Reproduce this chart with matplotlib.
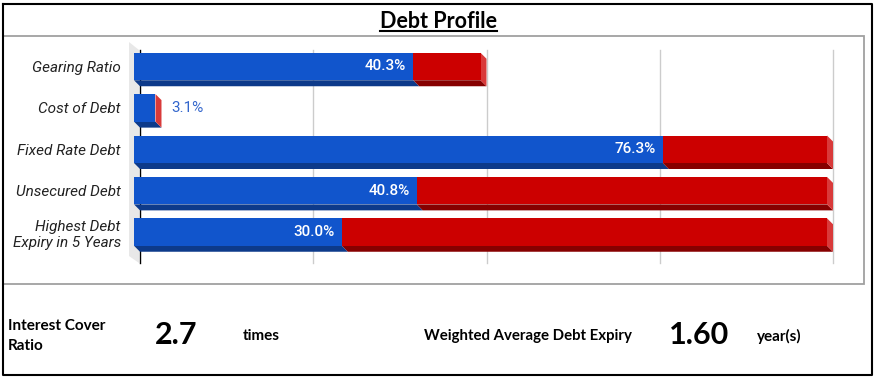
import matplotlib.pyplot as plt
from matplotlib import font_manager
from matplotlib.patches import Polygon, Rectangle

# data
categories = ['Gearing Ratio', 'Cost of Debt', 'Fixed Rate Debt', 'Unsecured Debt',
              'Highest Debt\nExpiry in 5 Years']
value = [40.3, 3.1, 76.3, 40.8, 30.0]
remainder = [9.7, 0.0, 23.7, 59.2, 70.0]
grid_ticks = [0, 25, 50, 75, 100]

title = 'Debt Profile'
icr_label = 'Interest Cover\nRatio'
icr_value = '2.7'
icr_unit = 'times'
wade_label = 'Weighted Average Debt Expiry'
wade_value = '1.60'
wade_unit = 'year(s)'

# colours
blue, blue_dark = '#1155cc', '#0d3a8a'
red, red_dark, red_side = '#cc0000', '#860000', '#d93a3a'

# pick a family that really has an italic face
italic_family = 'Liberation Sans'
for fam in ['Roboto', 'Open Sans', 'Noto Sans']:
    f = font_manager.findfont(font_manager.FontProperties(family=fam, style='italic'),
                              fallback_to_default=False)
    if 'italic' in f.lower():
        italic_family = fam
        break

W, H = 877, 378
fig = plt.figure(figsize=(W / 100, H / 100), dpi=100)

# pixel overlay for the frames and the bottom panel
bg = fig.add_axes([0, 0, 1, 1])
bg.set_xlim(0, W)
bg.set_ylim(H, 0)
bg.axis('off')
bg.plot([3, 872, 872, 3, 3], [4, 4, 375, 375, 4], color='black', lw=1.5)
bg.add_patch(Rectangle((3, 36), 861, 248, fill=False, ec='#a0a0a0', lw=1.3))

t = bg.text(W / 2, 21, title, ha='center', va='center', fontsize=15.5,
            fontweight='bold', family='Lato', color='black')

kw = dict(va='center', ha='left', fontweight='bold', family='Lato', color='black')
bg.text(8, 336, icr_label, fontsize=11, linespacing=1.5, **kw)
bg.text(155, 335, icr_value, fontsize=22, **kw)
bg.text(243, 336, icr_unit, fontsize=11, **kw)
bg.text(424, 336, wade_label, fontsize=10.8, **kw)
bg.text(669, 335, wade_value, fontsize=22, **kw)
bg.text(757, 336, wade_unit, fontsize=11, **kw)

# chart axes: 0..100 % across the bar area
x0px, x1px = 134, 827
top_px, bot_px = 36, 284
yc0, step = 66.5, 41.375
ax = fig.add_axes([x0px / W, 1 - bot_px / H, (x1px - x0px) / W, (bot_px - top_px) / H])
ax.set_xlim(0, 100)
ax.set_ylim((bot_px - yc0) / step, (top_px - yc0) / step)
ax.patch.set_alpha(0)
for s in ax.spines.values():
    s.set_visible(False)
ax.set_xticks([])
ax.set_yticks(range(len(categories)))
ax.set_yticklabels(categories, fontstyle='italic', fontsize=11, family=italic_family,
                   color='#222222')
ax.tick_params(axis='y', length=0, pad=9.5)


def px2x(p):
    return (p - x0px) * 100 / (x1px - x0px)


def px2y(p):
    return (p - yc0) / step


dx = px2x(x0px + 6)
dy = 6 / step
h = 27.5 / step

# left wall of the 3d box
ax.add_patch(Polygon([(px2x(129), px2y(42)), (px2x(139), px2y(50)),
                      (px2x(139), px2y(263)), (px2x(129), px2y(256))],
                     closed=True, fc='#e8e8e8', ec='none', clip_on=False, zorder=0))
for g in grid_ticks:
    ax.plot([g + dx, g + dx], [px2y(50), px2y(263)], color='black' if g == 0 else '#cccccc',
            lw=1, zorder=1, clip_on=False)

for i, (v, r) in enumerate(zip(value, remainder)):
    yt, yb = i - h / 2, i + h / 2
    segs = [(0, v, blue, blue_dark), (v, v + r, red, red_dark)]
    for a, b, fc, dc in segs:
        if b <= a:
            continue
        ax.add_patch(Polygon([(a, yb), (b, yb), (b + dx, yb + dy), (a + dx, yb + dy)],
                             closed=True, fc=dc, ec='none', zorder=2, clip_on=False))
        ax.add_patch(Rectangle((a, yt), b - a, h, fc=fc, ec='none', zorder=3, clip_on=False))
    end = v + r
    ax.add_patch(Polygon([(end, yt), (end + dx, yt + dy), (end + dx, yb + dy), (end, yb)],
                         closed=True, fc=red_side, ec='none', zorder=2, clip_on=False))
    if v >= 10:
        ax.annotate(f'{v:.1f}%', (v, i), xytext=(-5, 0), textcoords='offset points',
                    ha='right', va='center', color='white', fontsize=11, family='Roboto',
                    fontweight='medium', zorder=4)
    else:
        ax.annotate(f'{v:.1f}%', (end + dx, i), xytext=(7, 0), textcoords='offset points',
                    ha='left', va='center', color='#3366cc', fontsize=11, family='Roboto',
                    zorder=4)

# underline the title
fig.canvas.draw()
bb = t.get_window_extent()
(xa, _), (xb, _) = bg.transData.inverted().transform([(bb.x0, bb.y0), (bb.x1, bb.y0)])
bg.plot([xa, xb], [31, 31], color='black', lw=1.5)

fig.savefig('out.png', dpi=100)
